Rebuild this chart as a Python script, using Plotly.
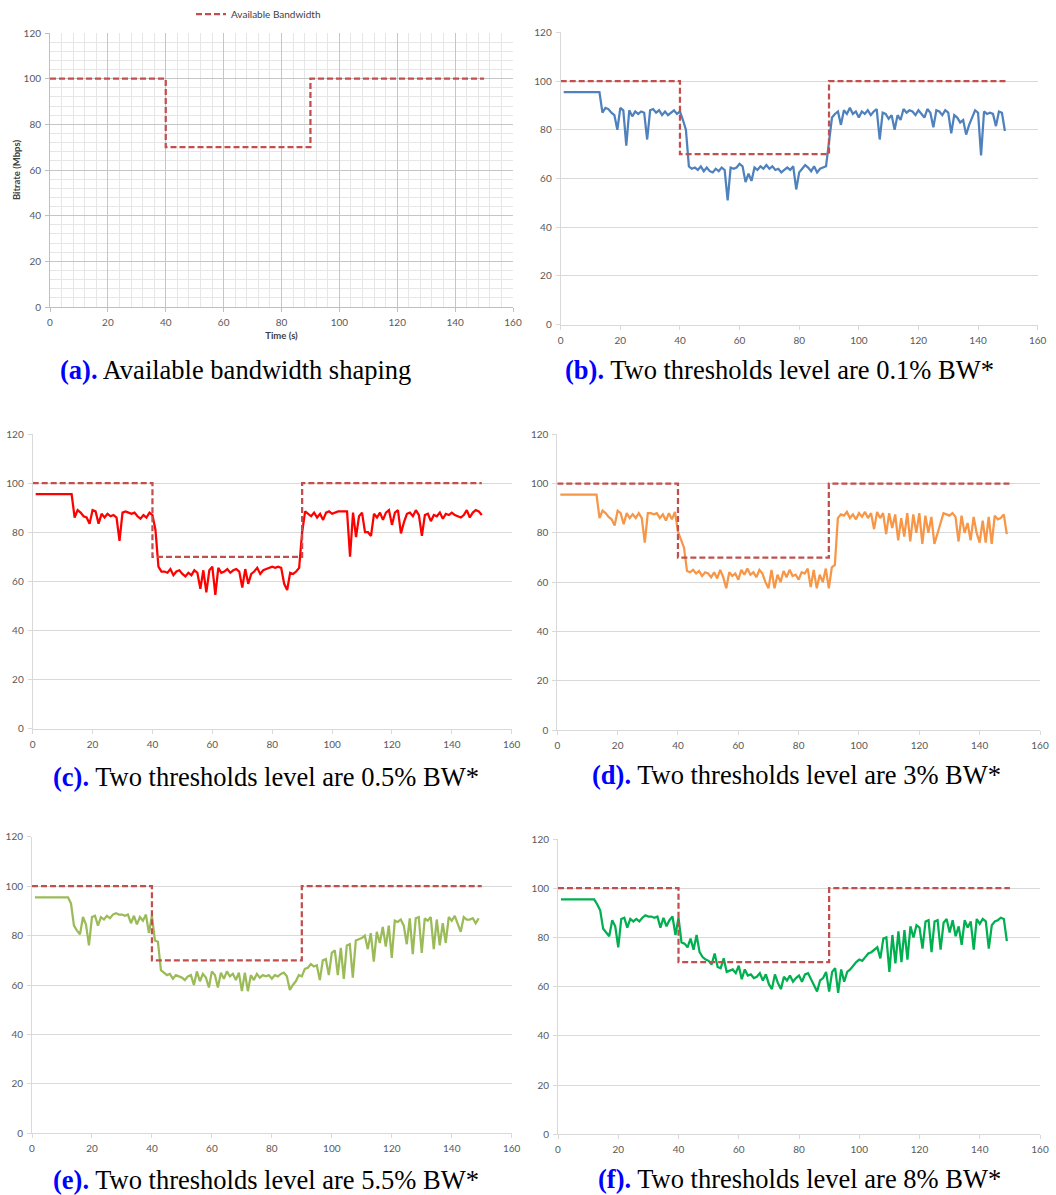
import plotly.graph_objects as go

W, H = 1056, 1195

# ---------------- data ----------------
bw_time = [0, 40, 40, 90, 90, 150]
bw_rate = [100, 100, 70, 70, 100, 100]

rate_b = [
    95.5, 95.5, 95.5, 95.5, 95.5, 95.5, 95.5, 95.5, 95.5, 95.5,
    95.5, 95.5, 95.5, 87, 89, 88.5, 87, 86, 80, 89,
    88, 73.5, 88, 85.5, 87.5, 86.5, 87.5, 87, 76, 88,
    88.5, 87, 88, 86, 87.5, 86, 87, 88, 86.5, 87.5,
    84, 80, 65, 64, 64.5, 63.5, 65, 63, 64.5, 63,
    62.5, 64, 63, 64.5, 63.5, 51, 64.5, 64, 64.5, 66,
    65, 58.5, 62, 59, 64.5, 63.5, 65, 64, 65.5, 64,
    65, 63.5, 64, 62.5, 63.5, 64.5, 63.5, 65, 55.5, 62.5,
    64, 65.5, 64.5, 63, 65, 62.5, 64, 64.5, 65, 75,
    85, 86.5, 87.5, 82, 88, 86.5, 89, 86.5, 87.5, 85,
    87.5, 86.5, 88, 86, 87.5, 88.5, 76, 87, 86.5, 84.5,
    86, 80, 86, 84, 88.5, 87, 88, 87.5, 86, 88,
    86.5, 85, 88.5, 87, 81, 88, 87.5, 86, 88, 87,
    78.5, 86, 85, 83, 84, 78, 82, 85, 88, 87,
    69.5, 87.5, 86.5, 87, 86.5, 81.5, 87.5, 87, 79.5,
]

rate_c = [
    95.5, 95.5, 95.5, 95.5, 95.5, 95.5, 95.5, 95.5, 95.5, 95.5,
    95.5, 95.5, 95.5, 86, 89, 88, 86.5, 86, 83.5, 89,
    88.5, 83.5, 87.5, 86, 87.5, 86.5, 87, 86, 76.5, 88,
    88.5, 88, 87.5, 88, 86.5, 85.5, 87, 86, 88, 87,
    81, 66, 64, 64, 63.5, 65, 62.5, 64, 64.5, 63,
    62, 63.5, 62.5, 64.5, 63.5, 57, 64.5, 55.5, 64.5, 66,
    54.5, 65.5, 63.5, 64, 65, 63.5, 64.5, 65, 64, 57.5,
    65, 59, 63, 64, 65.5, 63, 64.5, 65, 65.5, 66,
    65.5, 66, 65.5, 59, 56.5, 63.5, 63, 64, 65.5, 80,
    88.5, 87.5, 86.5, 88, 86, 87.5, 85, 88, 88.5, 87.5,
    88, 88.5, 88.5, 88.5, 88.5, 70, 88, 78, 86.5, 88,
    80, 80, 78.5, 87.5, 86, 88, 85, 88, 89, 83,
    88, 89, 79.5, 84, 87.5, 88, 86.5, 89, 87, 78.5,
    87, 87.5, 84.5, 87, 86.5, 88, 85.5, 87.5, 87, 88,
    87, 86.5, 86, 87, 89, 86, 88, 89, 88.5, 87,
]

rate_d = [
    95.5, 95.5, 95.5, 95.5, 95.5, 95.5, 95.5, 95.5, 95.5, 95.5,
    95.5, 95.5, 95.5, 86, 89, 88, 86.5, 85.5, 83, 89,
    88, 83.5, 88, 86, 87.5, 86, 88, 86, 76, 88,
    88, 87.5, 88, 86, 87.5, 85, 88, 85.5, 88.5, 80.5,
    77, 74, 64.5, 64, 65, 63.5, 64.5, 62.5, 64, 63.5,
    62, 64, 61.5, 65, 62, 57.5, 64, 62.5, 63.5, 61,
    65, 63, 65.5, 63, 64, 62, 65, 63.5, 60, 57.5,
    65, 57.5, 63, 60, 64.5, 62, 65, 62.5, 63, 61,
    64, 63.5, 65.5, 58, 65, 57.5, 63, 60, 65.5, 57.5,
    66, 67, 86, 87.5, 87, 88.5, 86, 87.5, 85.5, 88,
    86.5, 88.5, 86, 88, 81.5, 88.5, 86, 88, 79.5, 88,
    82, 87.5, 77, 86, 78.5, 88, 76.5, 87.5, 80, 88,
    75.5, 87, 80, 86.5, 75.5, 80, 84, 88, 87.5, 87,
    88, 86.5, 76.5, 87, 80, 84, 77, 86.5, 80, 76,
    85, 76, 86.5, 75.5, 87, 85.5, 86, 87.5, 79.5,
]

rate_e = [
    95.5, 95.5, 95.5, 95.5, 95.5, 95.5, 95.5, 95.5, 95.5, 95.5,
    95.5, 95.5, 93, 84, 82, 80.5, 87.5, 84.5, 76, 87.5,
    88, 84, 87.5, 86.5, 88, 87, 88.5, 89, 88.5, 88.5,
    88, 88.5, 85, 88, 84.5, 87.5, 86, 88.5, 81, 88,
    78, 77.5, 66, 65, 64, 64.5, 62.5, 64, 63.5, 63,
    62, 63.5, 64, 60, 65.5, 61.5, 64.5, 63, 59, 65.5,
    64, 59, 65, 62.5, 65.5, 63.5, 64.5, 62, 65, 57.5,
    65, 57.5, 64, 62, 64.5, 63, 64, 63.5, 64, 62.5,
    64, 63.5, 64.5, 65, 63.5, 58, 60, 61.5, 64, 63.5,
    66.5, 67, 68.5, 67.5, 68, 62, 70, 70.5, 64, 73,
    74, 64, 75, 62.5, 76, 76.5, 63, 78, 78.5, 79,
    80, 74.5, 81, 69.5, 81.5, 77, 83.5, 75.5, 84, 71,
    86, 85.5, 86.5, 84, 76.5, 87, 72.5, 87, 87.5, 73,
    87, 86, 87.5, 74.5, 86.5, 76, 85, 77, 87.5, 86,
    88, 85, 81.5, 87.5, 86.5, 86.5, 87, 85, 87,
]

rate_f = [
    95.5, 95.5, 95.5, 95.5, 95.5, 95.5, 95.5, 95.5, 95.5, 95.5,
    95.5, 95.5, 93.5, 91, 83.5, 82, 80.5, 87, 84.5, 76,
    87.5, 88, 84, 87.5, 86.5, 87.5, 86.5, 88, 89, 88.5,
    88.5, 88, 88.5, 84, 88, 84.5, 87, 88.5, 81, 88,
    78, 77.5, 76, 79.5, 75, 81, 74, 72, 71, 70.5,
    69, 73.5, 68, 67.5, 71.5, 66, 66.5, 67, 65.5, 68.5,
    63, 67, 64.5, 65, 63.5, 64, 65.5, 62.5, 65, 61,
    59, 65, 61.5, 59, 64, 62.5, 64.5, 62, 63.5, 64.5,
    62, 65, 65.5, 63, 61, 58, 62.5, 63.5, 66, 58,
    66, 67.5, 57.5, 67, 62, 66, 67, 68.5, 70, 71,
    70.5, 72, 73.5, 74, 75, 76, 71.5, 79.5, 80, 66,
    81, 69.5, 82.5, 70, 83, 71, 84.5, 80, 85, 84,
    75.5, 86.5, 87, 74, 86.5, 87, 75, 86, 87.5, 82,
    87, 80.5, 84.5, 77, 87, 84, 86.5, 75, 87.5, 85.5,
    87.5, 86.5, 75.5, 85, 86.5, 87, 88, 87.5, 78.5,
]

x_ticks = [0, 20, 40, 60, 80, 100, 120, 140, 160]
y_ticks = [0, 20, 40, 60, 80, 100, 120]

captions = [
    ("(a).", "Available bandwidth shaping"),
    ("(b).", "Two thresholds level are 0.1% BW*"),
    ("(c).", "Two thresholds level are 0.5% BW*"),
    ("(d).", "Two thresholds level are 3% BW*"),
    ("(e).", "Two thresholds level are 5.5% BW*"),
    ("(f).", "Two thresholds level are 8% BW*"),
]

series = [None, rate_b, rate_c, rate_d, rate_e, rate_f]
colors = [None, "#4F81BD", "#FF0000", "#F79646", "#9BBB59", "#00B050"]

# ---------------- layout geometry (pixels) ----------------
# plot area: left, right, top, bottom
areas = [
    (50, 513, 33, 307),
    (560.7, 1037.7, 32.3, 324.7),
    (32.7, 511.7, 434, 728.7),
    (557.3, 1040, 434.3, 730),
    (32, 511.7, 836.7, 1133.3),
    (558, 1040, 839, 1134.3),
]
cap_pos = [(58, 370), (563, 370), (51, 777), (590, 775), (51, 1180), (596, 1179)]

BW_COLOR = "#C0504D"
TICK_FONT = dict(family="Lato, Open Sans, sans-serif", size=10, color="#595959")

fig = go.Figure()
layout = dict(
    width=W, height=H,
    margin=dict(l=0, r=0, t=0, b=0, autoexpand=False),
    paper_bgcolor="white", plot_bgcolor="white",
    showlegend=True,
    legend=dict(
        x=191 / W, y=1 - 14 / H, xanchor="left", yanchor="middle",
        font=dict(family="Lato, Open Sans, sans-serif", size=10, color="#404040"),
        bgcolor="rgba(0,0,0,0)", itemwidth=30,
    ),
    annotations=[],
)

for i in range(6):
    xa = "x" if i == 0 else f"x{i+1}"
    ya = "y" if i == 0 else f"y{i+1}"
    xkey = "xaxis" if i == 0 else f"xaxis{i+1}"
    ykey = "yaxis" if i == 0 else f"yaxis{i+1}"
    l, r, t, b = areas[i]
    common = dict(
        showline=True, linecolor="#D9D9D9" if i else "#BFBFBF", linewidth=1,
        ticks="outside", ticklen=4, tickcolor="#D9D9D9" if i else "#BFBFBF",
        tickfont=TICK_FONT, zeroline=False, ticklabelstandoff=2, automargin=False,
    )
    xdef = dict(
        domain=[l / W, r / W], range=[0, 160], tickmode="array",
        tickvals=x_ticks, anchor=ya, showgrid=False, **common,
    )
    ydef = dict(
        domain=[1 - b / H, 1 - t / H], range=[0, 120], tickmode="array",
        tickvals=y_ticks, anchor=xa, showgrid=True, gridcolor="#D9D9D9",
        gridwidth=1, **common,
    )
    if i == 0:
        xdef.update(showgrid=True, gridcolor="#C6C6C6",
                    minor=dict(dtick=4, showgrid=True, gridcolor="#E6E6E6", gridwidth=1),
                    title=dict(text="<b>Time (s)</b>", standoff=5,
                               font=dict(family="Lato, Open Sans, sans-serif", size=9.5, color="#404040")))
        ydef.update(gridcolor="#C6C6C6",
                    minor=dict(dtick=4, showgrid=True, gridcolor="#E6E6E6", gridwidth=1),
                    title=dict(text="<b>Bitrate (Mbps)</b>", standoff=1,
                               font=dict(family="Lato, Open Sans, sans-serif", size=9.5, color="#404040")))
    layout[xkey] = xdef
    layout[ykey] = ydef

    if i > 0:
        vals = series[i]
        fig.add_trace(go.Scatter(
            x=list(range(1, len(vals) + 1)), y=vals, mode="lines",
            line=dict(color=colors[i], width=2.25), xaxis=xa, yaxis=ya,
            showlegend=False, name="Bitrate",
        ))
    fig.add_trace(go.Scatter(
        x=bw_time, y=bw_rate, mode="lines",
        line=dict(color=BW_COLOR, width=2.25, dash="6px,3px"),
        xaxis=xa, yaxis=ya, name="Available Bandwidth", showlegend=(i == 0),
    ))

    cx, cy = cap_pos[i]
    lab, txt = captions[i]
    layout["annotations"].append(dict(
        x=cx / W, y=1 - cy / H, xref="paper", yref="paper",
        xanchor="left", yanchor="middle", showarrow=False,
        text=f"<span style='color:#0000FF'><b>{lab}</b></span> {txt}",
        font=dict(family="Liberation Serif, Times New Roman, serif", size=26.5, color="black"),
    ))

fig.update_layout(**layout)
fig.write_html("out.html", config={"displayModeBar": False},
               post_script="document.body.style.margin='0px';")
